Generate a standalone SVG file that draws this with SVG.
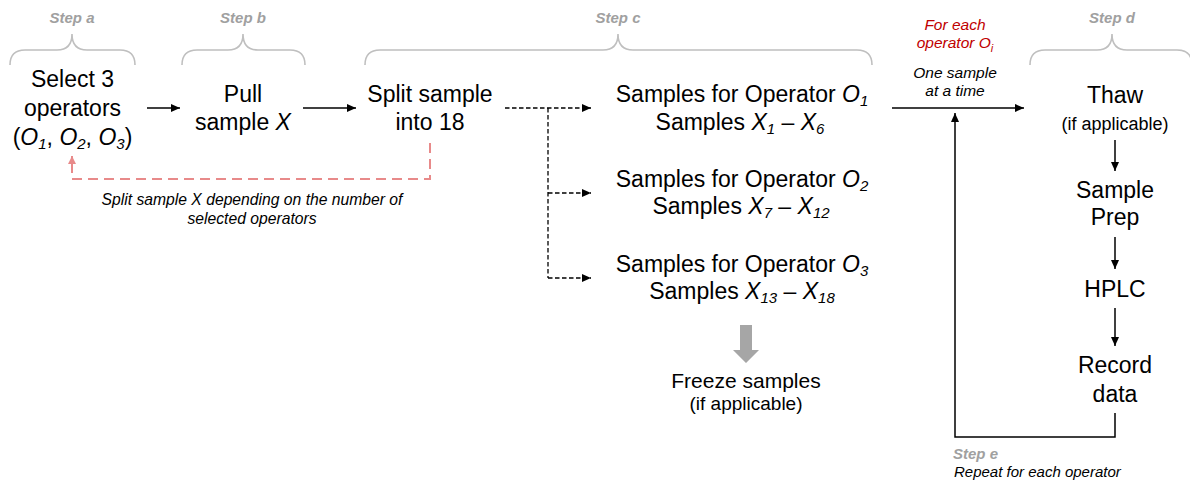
<svg xmlns="http://www.w3.org/2000/svg" width="1190" height="481" viewBox="0 0 1190 481">
  <style>
    text { font-family: "Liberation Sans", Arial, sans-serif; fill: #000; }
    .main { font-size: 23px; text-anchor: middle; }
    .it { font-style: italic; }
    .sub { font-size: 15px; font-style: italic; }
    .step { font-size: 15px; font-weight: bold; font-style: italic; fill: #a0a0a0; text-anchor: middle; }
    .note { font-size: 15.5px; font-style: italic; text-anchor: middle; }
    .red { fill: #c00000; }
    .paren { font-size: 18px; text-anchor: middle; }
    .brace { fill: none; stroke: #bfbfbf; stroke-width: 1.6; }
    .solid { fill: none; stroke: #000; stroke-width: 1.5; }
    .dash { fill: none; stroke: #000; stroke-width: 1.3; stroke-dasharray: 4.5 2.5; }
    .back { fill: none; stroke: #e88a8a; stroke-width: 2; stroke-dasharray: 10 6; }
    .split-note { font-size: 15.7px; font-style: italic; text-anchor: middle; }
  </style>
  <defs>
    <marker id="arrow" markerUnits="userSpaceOnUse" markerWidth="9" markerHeight="8" refX="9" refY="4" orient="auto">
      <path d="M0,0 L9,4 L0,8 z" fill="#000"/>
    </marker>
    <marker id="arrowRed" markerUnits="userSpaceOnUse" markerWidth="8" markerHeight="8" refX="8" refY="4" orient="auto">
      <path d="M0,0 L8,4 L0,8 z" fill="#e88a8a"/>
    </marker>
  </defs>

  <!-- step braces and labels -->
  <g id="step-labels">
    <path class="brace" d="M10,65 Q10,50 25,50 L57,50 Q72,50 72,34 Q72,50 87,50 L120,50 Q135,50 135,65"/>
    <text class="step" x="72" y="23">Step a</text>
    <path class="brace" d="M182,65 Q182,50 197,50 L228,50 Q243,50 243,34 Q243,50 258,50 L290,50 Q305,50 305,65"/>
    <text class="step" x="243" y="23">Step b</text>
    <path class="brace" d="M365,65 Q365,50 380,50 L603,50 Q618,50 618,34 Q618,50 633,50 L857,50 Q872,50 872,65"/>
    <text class="step" x="618" y="23">Step c</text>
    <path class="brace" d="M1030,65 Q1030,50 1045,50 L1097,50 Q1112,50 1112,34 Q1112,50 1127,50 L1177,50 Q1192,50 1192,65"/>
    <text class="step" x="1112" y="23">Step d</text>
  </g>

  <!-- connectors -->
  <g id="connectors">
    <line class="solid" x1="147" y1="108" x2="180" y2="108" marker-end="url(#arrow)"/>
    <line class="solid" x1="303" y1="108" x2="356" y2="108" marker-end="url(#arrow)"/>
    <line class="dash" x1="505" y1="108" x2="591" y2="108" marker-end="url(#arrow)"/>
    <line class="dash" x1="548" y1="108" x2="548" y2="278"/>
    <line class="dash" x1="548" y1="193" x2="591" y2="193" marker-end="url(#arrow)"/>
    <line class="dash" x1="548" y1="278" x2="591" y2="278" marker-end="url(#arrow)"/>
    <path class="back" d="M430,143 L430,179 L72,179 L72,163"/>
    <line x1="72" y1="164" x2="72" y2="156" stroke="#e88a8a" stroke-width="2" marker-end="url(#arrowRed)"/>
    <line class="solid" x1="892" y1="108" x2="1024" y2="108" marker-end="url(#arrow)"/>
    <path class="solid" d="M1115,413 L1115,437 L955,437 L955,113" marker-end="url(#arrow)"/>
    <line class="solid" x1="1115" y1="140" x2="1115" y2="171" marker-end="url(#arrow)"/>
    <line class="solid" x1="1115" y1="237" x2="1115" y2="269" marker-end="url(#arrow)"/>
    <line class="solid" x1="1115" y1="308" x2="1115" y2="346" marker-end="url(#arrow)"/>
    <polygon points="740,325 752,325 752,350 759,350 746,363 733,350 740,350" fill="#a6a6a6"/>
  </g>

  <g id="select-operators">
    <text class="main" x="72.5" y="87">Select 3</text>
    <text class="main" x="72.5" y="116">operators</text>
    <text class="main" x="72.5" y="145">(<tspan class="it">O</tspan><tspan class="sub" dy="4">1</tspan><tspan dy="-4">, </tspan><tspan class="it">O</tspan><tspan class="sub" dy="4">2</tspan><tspan dy="-4">, </tspan><tspan class="it">O</tspan><tspan class="sub" dy="4">3</tspan><tspan dy="-4">)</tspan></text>
  </g>

  <g id="pull-sample">
    <text class="main" x="243" y="102">Pull</text>
    <text class="main" x="243" y="130">sample <tspan class="it">X</tspan></text>
  </g>

  <g id="split-sample">
    <text class="main" x="430" y="102">Split sample</text>
    <text class="main" x="430" y="130">into 18</text>
  </g>

  <g id="split-note">
    <text class="split-note" x="252" y="205">Split sample X depending on the number of</text>
    <text class="split-note" x="252" y="224">selected operators</text>
  </g>

  <g id="operator-1">
    <text class="main" x="742" y="102">Samples for Operator <tspan class="it">O</tspan><tspan class="sub" dy="4">1</tspan></text>
    <text class="main" x="740" y="130">Samples <tspan class="it">X</tspan><tspan class="sub" dy="4">1</tspan><tspan dy="-4"> – </tspan><tspan class="it">X</tspan><tspan class="sub" dy="4">6</tspan></text>
  </g>

  <g id="operator-2">
    <text class="main" x="742" y="187">Samples for Operator <tspan class="it">O</tspan><tspan class="sub" dy="4">2</tspan></text>
    <text class="main" x="741" y="214">Samples <tspan class="it">X</tspan><tspan class="sub" dy="4">7</tspan><tspan dy="-4"> – </tspan><tspan class="it">X</tspan><tspan class="sub" dy="4">12</tspan></text>
  </g>

  <g id="operator-3">
    <text class="main" x="742" y="272">Samples for Operator <tspan class="it">O</tspan><tspan class="sub" dy="4">3</tspan></text>
    <text class="main" x="742" y="299">Samples <tspan class="it">X</tspan><tspan class="sub" dy="4">13</tspan><tspan dy="-4"> – </tspan><tspan class="it">X</tspan><tspan class="sub" dy="4">18</tspan></text>
  </g>

  <g id="freeze">
    <text style="font-size:21px;text-anchor:middle" x="746" y="388">Freeze samples</text>
    <text style="font-size:19px;text-anchor:middle" x="746" y="410">(if applicable)</text>
  </g>

  <g id="loop-label">
    <text class="note red" x="955" y="30">For each</text>
    <text class="note red" x="955" y="48">operator O<tspan style="font-size:11px" dy="4">i</tspan></text>
    <text class="note" x="955" y="78">One sample</text>
    <text class="note" x="955" y="96">at a time</text>
  </g>

  <g id="thaw">
    <text class="main" x="1115" y="103">Thaw</text>
    <text class="paren" x="1115" y="130">(if applicable)</text>
  </g>

  <g id="sample-prep">
    <text class="main" x="1115" y="198">Sample</text>
    <text class="main" x="1115" y="225">Prep</text>
  </g>

  <g id="hplc">
    <text class="main" x="1115" y="297">HPLC</text>
  </g>

  <g id="record-data">
    <text class="main" x="1115" y="373">Record</text>
    <text class="main" x="1115" y="402">data</text>
  </g>

  <g id="step-e">
    <text style="font-size:15px;font-weight:bold;font-style:italic;fill:#a0a0a0" x="953" y="459">Step e</text>
    <text style="font-size:15px;font-style:italic" x="954" y="477">Repeat for each operator</text>
  </g>
</svg>
